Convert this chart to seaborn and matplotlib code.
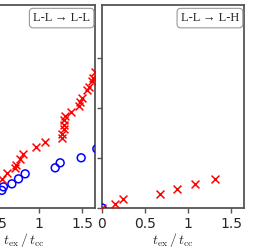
import numpy as np
import seaborn as sns
import matplotlib.pyplot as plt

# left panel (L-L -> L-L), only the visible part of the original figure
ll_red_x = [0.566, 0.624, 0.72, 0.733, 0.779, 0.818, 0.965, 1.07, 1.264, 1.27,
            1.283, 1.285, 1.29, 1.30, 1.37, 1.465, 1.48, 1.495, 1.555, 1.575,
            1.613, 1.625, 1.645]
ll_red_y = [0.58, 0.70, 0.80, 0.86, 0.98, 1.08, 1.21, 1.31, 1.39, 1.48,
            1.57, 1.66, 1.75, 1.84, 1.91, 2.04, 2.12, 2.20, 2.36, 2.42,
            2.53, 2.60, 2.72]
ll_blue_x = [0.566, 0.585, 0.683, 0.76, 0.837, 1.186, 1.244, 1.488, 1.67]
ll_blue_y = [0.35, 0.42, 0.48, 0.58, 0.68, 0.80, 0.90, 1.00, 1.18]

# right panel (L-L -> L-H)
lh_red_x = [0.0, 0.15, 0.24, 0.67, 0.87, 1.08, 1.31]
lh_red_y = [0.0, 0.07, 0.17, 0.28, 0.38, 0.48, 0.58]
lh_blue_x = [0.0]
lh_blue_y = [0.0]

xticks = [0, 0.5, 1, 1.5]
xticklabels = ["0", "0.5", "1", "1.5"]
yticks = [0, 1, 2, 3]

sns.set_style("ticks")
plt.rcParams["mathtext.fontset"] = "cm"
plt.rcParams["font.family"] = ["DejaVu Sans"]

fig = plt.figure(figsize=(2.55, 2.49), dpi=100)
ax1 = fig.add_axes([-0.184, 0.165, 0.557, 0.815])
ax2 = fig.add_axes([0.40, 0.165, 0.557, 0.815])

panels = [
    (ax1, ll_red_x, ll_red_y, ll_blue_x, ll_blue_y, "L-L \u2192 L-L"),
    (ax2, lh_red_x, lh_red_y, lh_blue_x, lh_blue_y, "L-L \u2192 L-H"),
]

for ax, rx, ry, bx, by, lab in panels:
    sns.scatterplot(x=bx, y=by, ax=ax, marker="o", s=32, facecolors="none",
                    edgecolor="blue", linewidth=1.1, zorder=3)
    sns.scatterplot(x=rx, y=ry, ax=ax, marker="x", s=32, color="red",
                    linewidth=1.1, zorder=4)
    ax.set_xlim(0, 1.65)
    ax.set_ylim(0, 4.05)
    ax.set_xticks(xticks)
    ax.set_xticklabels(xticklabels)
    ax.set_yticks(yticks)
    ax.set_xlabel(r"$t_{\mathrm{ex}}\,/\,t_{\mathrm{cc}}$", fontsize=10, labelpad=0)
    ax.tick_params(axis="x", labelsize=10, length=3.5, width=1, color="#555555", pad=3)
    ax.tick_params(axis="y", labelsize=10, length=3.5, width=1, color="#555555")
    for sp in ax.spines.values():
        sp.set_visible(True)
        sp.set_color("#555555")
        sp.set_linewidth(1.3)
    ax.text(0.965, 0.965, lab, transform=ax.transAxes, ha="right", va="top",
            fontsize=9, family="Liberation Serif",
            bbox=dict(boxstyle="round,pad=0.3", fc="white", ec="#999999", lw=0.8))

ax2.set_yticklabels([])

fig.savefig("out.png", dpi=100)
